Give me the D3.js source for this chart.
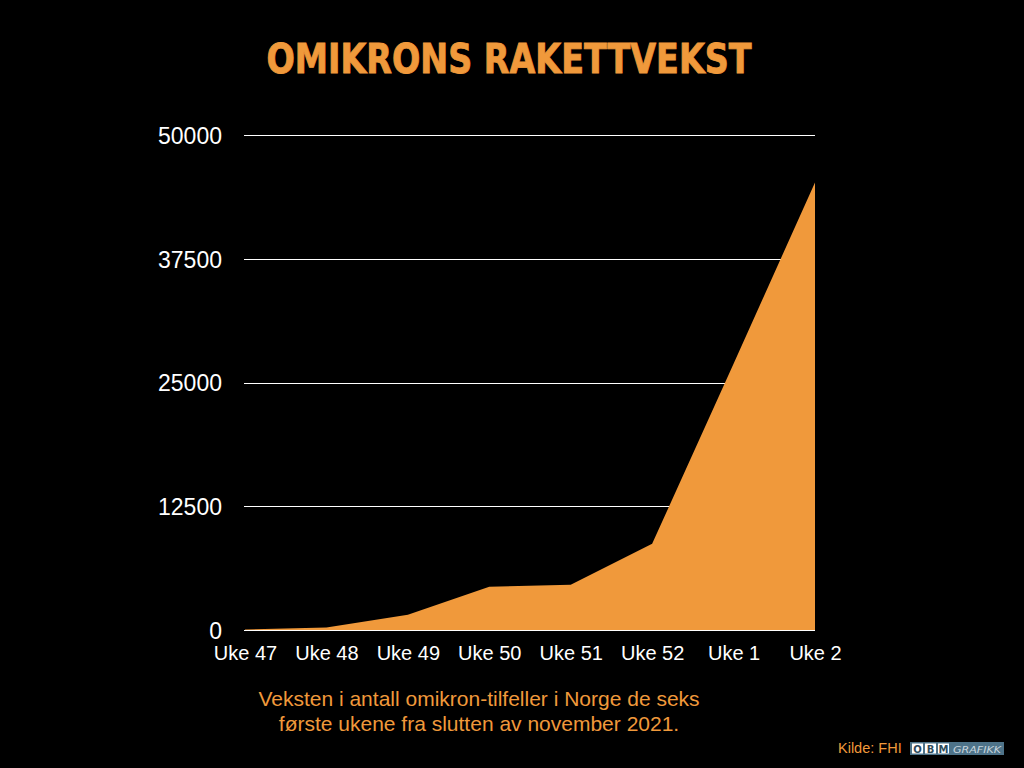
<!DOCTYPE html>
<html>
<head>
<meta charset="utf-8">
<script src="https://cdn.jsdelivr.net/npm/d3@7"></script>
<style>
  html, body { margin: 0; padding: 0; background: #000; }
  svg { display: block; }
</style>
</head>
<body>
<div id="chart"></div>
<script>
// Data
var weeks = ["Uke 47", "Uke 48", "Uke 49", "Uke 50", "Uke 51", "Uke 52", "Uke 1", "Uke 2"];
var cases = [50, 250, 1550, 4380, 4580, 8700, 26900, 45200];
var yTicks = [0, 12500, 25000, 37500, 50000];

var orange = "#F0993B";

window.onload = function() {
    var width = 1024, height = 768;

    var svg = d3.select("#chart")
        .append("svg")
        .attr("width", width)
        .attr("height", height);

    svg.append("rect")
        .attr("width", width)
        .attr("height", height)
        .attr("fill", "#000");

    // Title
    svg.append("text")
        .attr("x", 509)
        .attr("y", 73)
        .attr("text-anchor", "middle")
        .attr("fill", orange)
        .attr("stroke", orange)
        .attr("stroke-width", 0.8)
        .attr("font-family", "'DejaVu Sans Condensed', 'DejaVu Sans', sans-serif")
        .attr("font-weight", "bold")
        .attr("font-size", 40)
        .attr("textLength", 485)
        .attr("lengthAdjust", "spacingAndGlyphs")
        .text("OMIKRONS RAKETTVEKST");

    // Scales
    var x = d3.scalePoint()
        .domain(weeks)
        .range([245, 815]);

    var y = d3.scaleLinear()
        .domain([0, 50000])
        .range([630, 135]);

    // Gridlines
    svg.append("g")
        .selectAll("line")
        .data(yTicks)
        .enter()
        .append("line")
        .attr("x1", 244)
        .attr("x2", 815)
        .attr("y1", function(d) { return Math.round(y(d)) + 0.5; })
        .attr("y2", function(d) { return Math.round(y(d)) + 0.5; })
        .attr("stroke", "#fff")
        .attr("stroke-width", 1);

    // Area
    var area = d3.area()
        .x(function(d, i) { return x(weeks[i]); })
        .y0(y(0))
        .y1(function(d) { return y(d); });

    svg.append("path")
        .datum(cases)
        .attr("d", area)
        .attr("fill", orange);

    // Y axis labels
    var yAxis = d3.axisLeft(y)
        .tickValues(yTicks)
        .tickSize(0)
        .tickPadding(0)
        .tickFormat(d3.format("d"));

    var gy = svg.append("g")
        .attr("transform", "translate(222,0)")
        .call(yAxis);
    gy.select(".domain").remove();
    gy.selectAll("text")
        .attr("fill", "#fff")
        .attr("font-family", "'Liberation Sans', Arial, sans-serif")
        .attr("font-size", 23)
        .attr("dy", "0.36em");

    // X axis labels
    var xAxis = d3.axisBottom(x)
        .tickSize(0)
        .tickPadding(0);

    var gx = svg.append("g")
        .attr("transform", "translate(0,646)")
        .call(xAxis);
    gx.select(".domain").remove();
    gx.selectAll("text")
        .attr("fill", "#fff")
        .attr("font-family", "'Liberation Sans', Arial, sans-serif")
        .attr("font-size", 20)
        .attr("dy", "0.71em");

    // Subtitle
    var sub = svg.append("text")
        .attr("text-anchor", "middle")
        .attr("fill", orange)
        .attr("font-family", "'Liberation Sans', Arial, sans-serif")
        .attr("font-size", 21);
    sub.append("tspan").attr("x", 479).attr("y", 706)
        .text("Veksten i antall omikron-tilfeller i Norge de seks");
    sub.append("tspan").attr("x", 479).attr("y", 731)
        .text("første ukene fra slutten av november 2021.");

    // Source
    svg.append("text")
        .attr("x", 838)
        .attr("y", 753)
        .attr("fill", orange)
        .attr("font-family", "'Liberation Sans', Arial, sans-serif")
        .attr("font-size", 14.5)
        .text("Kilde: FHI");

    // OBM GRAFIKK logo
    var logo = svg.append("g").attr("transform", "translate(910,742)");
    logo.append("rect")
        .attr("width", 94)
        .attr("height", 13)
        .attr("fill", "#4E7389");
    ["O", "B", "M"].forEach(function(ch, i) {
        logo.append("rect")
            .attr("x", 2 + i * 13)
            .attr("y", 1.5)
            .attr("width", 11)
            .attr("height", 10)
            .attr("fill", "#fff");
        logo.append("text")
            .attr("x", 7.5 + i * 13)
            .attr("y", 10.5)
            .attr("text-anchor", "middle")
            .attr("fill", "#2F4B5C")
            .attr("font-family", "'DejaVu Sans', sans-serif")
            .attr("font-weight", "bold")
            .attr("font-size", 10)
            .text(ch);
    });
    logo.append("text")
        .attr("x", 43)
        .attr("y", 10.5)
        .attr("fill", "#C9D6DE")
        .attr("font-family", "'DejaVu Sans', sans-serif")
        .attr("font-style", "italic")
        .attr("font-size", 9.5)
        .attr("textLength", 48)
        .attr("lengthAdjust", "spacingAndGlyphs")
        .text("GRAFIKK");
};
</script>
</body>
</html>
